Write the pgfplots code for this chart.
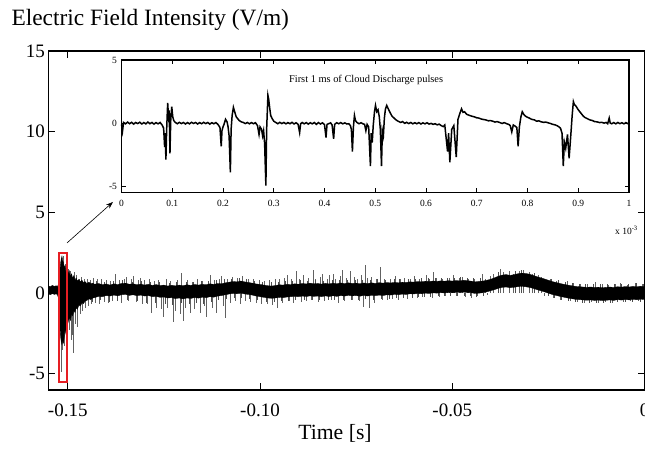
\documentclass[border=0pt]{standalone}
\usepackage{fontspec}
\setmainfont{Liberation Serif}
\usepackage{pgfplots}
\pgfplotsset{compat=1.18}
\usepackage{pgfplotstable}
\usepgfplotslibrary{fillbetween}
\usetikzlibrary{arrows.meta}
\definecolor{boxred}{RGB}{230,30,35}

\pgfplotstableread{
x u l
-0.1550 0.45 -0.05
-0.1545 0.40 -0.10
-0.1540 0.48 -0.02
-0.1535 0.42 -0.08
-0.1530 0.46 -0.04
-0.1527 0.40 -0.10
-0.1524 0.55 -0.30
-0.1521 1.00 -1.50
-0.1519 1.80 -2.60
-0.1517 2.10 -3.00
-0.1515 2.30 -3.20
-0.1513 2.00 -2.90
-0.1511 1.90 -3.10
-0.1509 1.60 -2.70
-0.1507 1.70 -2.20
-0.1505 1.30 -2.50
-0.1503 1.50 -1.90
-0.1501 1.10 -2.00
-0.1499 1.20 -1.80
-0.1496 1.40 -1.50
-0.1493 1.00 -1.70
-0.1490 1.20 -1.30
-0.1487 0.90 -1.40
-0.1484 1.10 -1.10
-0.1481 0.80 -1.20
-0.1478 0.95 -0.90
-0.1475 0.75 -1.00
-0.1471 0.85 -0.75
-0.1467 0.70 -0.80
-0.1463 0.80 -0.60
-0.1459 0.65 -0.65
-0.1455 0.72 -0.50
-0.1450 0.60 -0.45
-0.1445 0.68 -0.35
-0.1440 0.58 -0.40
-0.1435 0.62 -0.30
-0.1430 0.55 -0.28
-0.1420 0.60 -0.20
-0.1410 0.52 -0.22
-0.1400 0.57 -0.15
-0.1390 0.50 -0.18
-0.1380 0.58 -0.12
-0.1370 0.53 -0.17
-0.1360 0.60 -0.10
-0.1350 0.62 -0.08
-0.1340 0.55 -0.14
-0.1330 0.58 -0.10
-0.1320 0.52 -0.16
-0.1310 0.56 -0.12
-0.1300 0.50 -0.18
-0.1290 0.55 -0.15
-0.1280 0.48 -0.22
-0.1270 0.53 -0.20
-0.1260 0.47 -0.26
-0.1250 0.50 -0.24
-0.1240 0.44 -0.30
-0.1230 0.49 -0.28
-0.1220 0.45 -0.34
-0.1210 0.50 -0.30
-0.1200 0.46 -0.36
-0.1190 0.52 -0.30
-0.1180 0.48 -0.33
-0.1170 0.54 -0.27
-0.1160 0.50 -0.31
-0.1150 0.55 -0.25
-0.1140 0.52 -0.28
-0.1130 0.58 -0.22
-0.1120 0.54 -0.25
-0.1110 0.60 -0.18
-0.1100 0.58 -0.15
-0.1090 0.64 -0.10
-0.1080 0.68 -0.05
-0.1070 0.72 -0.02
-0.1060 0.70 -0.04
-0.1050 0.75 0.00
-0.1040 0.70 -0.05
-0.1030 0.66 -0.08
-0.1020 0.62 -0.12
-0.1010 0.57 -0.18
-0.1000 0.54 -0.22
-0.0990 0.50 -0.26
-0.0980 0.46 -0.30
-0.0970 0.44 -0.32
-0.0960 0.47 -0.30
-0.0950 0.52 -0.26
-0.0940 0.50 -0.28
-0.0930 0.55 -0.24
-0.0920 0.53 -0.22
-0.0910 0.58 -0.20
-0.0900 0.55 -0.22
-0.0890 0.60 -0.18
-0.0880 0.57 -0.21
-0.0870 0.62 -0.17
-0.0860 0.58 -0.20
-0.0850 0.60 -0.18
-0.0840 0.56 -0.22
-0.0830 0.61 -0.17
-0.0820 0.57 -0.21
-0.0810 0.62 -0.16
-0.0800 0.58 -0.20
-0.0790 0.63 -0.15
-0.0780 0.59 -0.18
-0.0770 0.64 -0.14
-0.0760 0.60 -0.17
-0.0750 0.62 -0.15
-0.0740 0.58 -0.19
-0.0730 0.63 -0.14
-0.0720 0.59 -0.18
-0.0710 0.64 -0.13
-0.0700 0.60 -0.16
-0.0690 0.65 -0.12
-0.0680 0.62 -0.15
-0.0670 0.66 -0.10
-0.0660 0.63 -0.12
-0.0650 0.67 -0.08
-0.0640 0.64 -0.10
-0.0630 0.68 -0.06
-0.0620 0.66 -0.08
-0.0610 0.70 -0.04
-0.0600 0.68 -0.05
-0.0590 0.72 -0.02
-0.0580 0.70 -0.04
-0.0570 0.74 0.00
-0.0560 0.72 -0.02
-0.0550 0.75 0.02
-0.0540 0.73 0.00
-0.0530 0.76 0.03
-0.0520 0.74 0.01
-0.0510 0.77 0.04
-0.0500 0.75 0.02
-0.0490 0.78 0.05
-0.0480 0.76 0.04
-0.0470 0.80 0.06
-0.0460 0.77 0.04
-0.0450 0.74 0.02
-0.0440 0.70 -0.02
-0.0430 0.73 0.00
-0.0420 0.75 0.03
-0.0410 0.80 0.08
-0.0400 0.86 0.15
-0.0390 0.95 0.22
-0.0380 1.05 0.30
-0.0370 1.12 0.36
-0.0360 1.15 0.38
-0.0350 1.10 0.34
-0.0340 1.14 0.36
-0.0330 1.20 0.40
-0.0320 1.24 0.42
-0.0310 1.22 0.40
-0.0300 1.18 0.36
-0.0290 1.10 0.30
-0.0280 1.02 0.22
-0.0270 0.95 0.15
-0.0260 0.88 0.08
-0.0250 0.80 0.00
-0.0240 0.72 -0.08
-0.0230 0.66 -0.14
-0.0220 0.60 -0.20
-0.0210 0.55 -0.25
-0.0200 0.50 -0.30
-0.0190 0.46 -0.34
-0.0180 0.42 -0.38
-0.0170 0.40 -0.40
-0.0160 0.38 -0.42
-0.0150 0.36 -0.44
-0.0140 0.38 -0.42
-0.0130 0.35 -0.45
-0.0120 0.37 -0.43
-0.0110 0.34 -0.46
-0.0100 0.36 -0.44
-0.0090 0.38 -0.42
-0.0080 0.35 -0.45
-0.0070 0.40 -0.40
-0.0060 0.37 -0.43
-0.0050 0.41 -0.39
-0.0040 0.38 -0.42
-0.0030 0.42 -0.38
-0.0020 0.39 -0.41
-0.0010 0.43 -0.37
0.0000 0.40 -0.40
}\band

\pgfplotstableread{
x y
-0.1518 -4.9
-0.1516 2.2
-0.1514 -3.5
-0.1512 2.3
-0.1510 -3.3
-0.1506 1.8
-0.1502 -2.4
-0.1499 1.5
-0.1497 -2.3
-0.1494 1.4
-0.1492 -2.9
-0.1489 -2.6
-0.1487 1.0
-0.1485 -3.7
-0.1482 1.3
-0.1480 -1.9
-0.1477 1.1
-0.1474 -2.1
-0.1471 0.9
-0.1468 -1.3
-0.1465 1.0
-0.1462 -1.1
-0.1458 0.85
-0.1455 -0.95
-0.1450 0.9
-0.1447 -0.8
-0.1442 0.8
-0.1438 -0.7
-0.1433 0.95
-0.1428 -0.6
-0.1422 0.85
-0.1418 -0.7
-0.1412 0.9
-0.1406 -0.55
-0.1400 0.8
-0.1395 -0.6
-0.1390 0.75
-0.1385 -0.5
-0.1377 1.2
-0.1372 -0.45
-0.1366 0.8
-0.1360 -0.6
-0.1353 0.9
-0.1347 1.0
-0.1342 -0.5
-0.1335 0.85
-0.1329 1.05
-0.1323 -0.55
-0.1317 0.8
-0.1312 0.95
-0.1306 -0.65
-0.1300 0.8
-0.1294 -0.7
-0.1288 0.85
-0.1282 -1.2
-0.1276 0.75
-0.1270 -0.9
-0.1264 0.8
-0.1258 -1.0
-0.1251 -1.45
-0.1245 0.85
-0.1240 -0.9
-0.1233 0.75
-0.1225 -1.8
-0.1220 -1.1
-0.1214 0.8
-0.1208 -1.3
-0.1204 1.25
-0.1200 -1.75
-0.1195 -0.9
-0.1189 0.8
-0.1182 -1.2
-0.1176 0.7
-0.1170 -1.0
-0.1163 0.85
-0.1156 -1.25
-0.1150 0.75
-0.1144 -0.8
-0.1139 -1.45
-0.1130 1.15
-0.1124 -0.9
-0.1118 0.8
-0.1113 -1.2
-0.1106 0.9
-0.1100 1.05
-0.1096 -0.8
-0.1091 -1.55
-0.1085 0.9
-0.1078 -0.6
-0.1072 1.0
-0.1065 -0.5
-0.1058 0.95
-0.1052 -0.65
-0.1045 1.05
-0.1038 -0.5
-0.1031 0.9
-0.1024 -0.55
-0.1017 0.85
-0.1010 -0.6
-0.1003 0.8
-0.0996 -0.65
-0.0989 0.75
-0.0982 -0.7
-0.0975 0.8
-0.0968 -0.75
-0.0961 0.85
-0.0956 -0.9
-0.0950 0.9
-0.0943 -0.6
-0.0936 0.95
-0.0930 1.1
-0.0924 -0.5
-0.0918 0.9
-0.0913 -0.6
-0.0905 1.4
-0.0898 0.9
-0.0893 -0.55
-0.0887 1.15
-0.0880 -0.5
-0.0874 0.95
-0.0867 -0.45
-0.0861 1.45
-0.0855 0.85
-0.0849 -0.55
-0.0843 1.0
-0.0838 1.2
-0.0832 -0.5
-0.0826 0.9
-0.0820 1.1
-0.0815 -0.45
-0.0809 1.2
-0.0803 0.9
-0.0797 -0.6
-0.0791 1.05
-0.0787 1.45
-0.0781 -0.5
-0.0775 0.95
-0.0766 1.35
-0.0760 -0.45
-0.0754 1.0
-0.0748 0.85
-0.0742 -0.5
-0.0736 1.1
-0.0731 -0.85
-0.0727 1.75
-0.0722 0.95
-0.0715 -0.95
-0.0710 1.0
-0.0703 -0.6
-0.0698 0.9
-0.0688 1.65
-0.0682 -0.45
-0.0676 0.85
-0.0668 -0.4
-0.0661 0.9
-0.0655 -0.35
-0.0648 1.05
-0.0640 -0.4
-0.0634 0.85
-0.0625 0.95
-0.0618 -0.35
-0.0610 0.9
-0.0600 1.05
-0.0592 -0.3
-0.0585 0.9
-0.0577 -0.25
-0.0567 1.15
-0.0560 0.9
-0.0552 -0.3
-0.0549 1.3
-0.0541 0.95
-0.0533 -0.25
-0.0525 0.9
-0.0517 -0.2
-0.0509 0.95
-0.0497 1.1
-0.0490 -0.2
-0.0482 0.95
-0.0474 1.0
-0.0466 -0.25
-0.0458 0.9
-0.0450 -0.3
-0.0442 0.85
-0.0435 -0.2
-0.0423 1.2
-0.0415 0.9
-0.0408 -0.1
-0.0400 1.05
-0.0392 1.2
-0.0376 1.5
-0.0368 1.3
-0.0352 1.35
-0.0341 1.2
-0.0326 1.35
-0.0315 1.45
-0.0300 1.3
-0.0292 1.2
-0.0276 1.1
-0.0268 1.0
-0.0260 -0.15
-0.0246 0.9
-0.0238 -0.3
-0.0229 0.75
-0.0220 -0.4
-0.0202 0.75
-0.0193 -0.5
-0.0184 0.6
-0.0175 -0.55
-0.0166 0.55
-0.0157 -0.6
-0.0148 0.55
-0.0139 -0.55
-0.0129 0.7
-0.0120 -0.6
-0.0111 0.55
-0.0102 -0.55
-0.0093 0.5
-0.0084 -0.6
-0.0075 0.55
-0.0064 0.6
-0.0055 -0.55
-0.0046 0.5
-0.0037 -0.5
-0.0025 0.6
-0.0016 -0.5
-0.0007 0.55
}\spikes

\pgfplotstableread{
x y
-0.1441 0.72
-0.1436 -0.52
-0.1426 0.78
-0.1415 -0.45
-0.1404 0.70
-0.1393 -0.55
-0.1382 0.74
-0.1371 -0.48
-0.1357 0.80
-0.1344 -0.42
-0.1333 0.72
-0.1319 -0.50
-0.1309 0.76
-0.1297 -0.58
-0.1285 0.68
-0.1273 -0.62
-0.1261 0.70
-0.1247 -0.66
-0.1236 0.64
-0.1228 -0.72
-0.1217 0.66
-0.1205 -0.64
-0.1192 0.70
-0.1185 -0.70
-0.1173 0.72
-0.1166 -0.60
-0.1153 0.74
-0.1147 -0.66
-0.1134 0.78
-0.1127 -0.55
-0.1115 0.80
-0.1108 -0.45
-0.1094 0.86
-0.1087 -0.35
-0.1075 0.90
-0.1068 -0.28
-0.1055 0.92
-0.1048 -0.30
-0.1035 0.88
-0.1028 -0.38
-0.1014 0.78
-0.1006 -0.45
-0.0993 0.70
-0.0985 -0.52
-0.0972 0.66
-0.0964 -0.55
-0.0953 0.72
-0.0946 -0.50
-0.0933 0.76
-0.0927 -0.46
-0.0915 0.78
-0.0908 -0.44
-0.0895 0.80
-0.0884 -0.42
-0.0877 0.78
-0.0864 -0.44
-0.0857 0.80
-0.0846 -0.42
-0.0835 0.78
-0.0823 -0.44
-0.0812 0.82
-0.0806 -0.40
-0.0794 0.80
-0.0784 -0.42
-0.0772 0.84
-0.0763 -0.40
-0.0751 0.82
-0.0745 -0.42
-0.0733 0.84
-0.0725 -0.38
-0.0713 0.82
-0.0706 -0.40
-0.0694 0.86
-0.0685 -0.36
-0.0673 0.84
-0.0664 -0.34
-0.0652 0.86
-0.0645 -0.32
-0.0637 0.88
-0.0628 -0.30
-0.0614 0.88
-0.0605 -0.28
-0.0596 0.90
-0.0588 -0.25
-0.0580 0.92
-0.0572 -0.22
-0.0563 0.94
-0.0556 -0.22
-0.0545 0.92
-0.0537 -0.20
-0.0529 0.95
-0.0521 -0.20
-0.0513 0.94
-0.0505 -0.18
-0.0494 0.96
-0.0486 -0.18
-0.0478 0.98
-0.0470 -0.16
-0.0462 0.95
-0.0454 -0.20
-0.0446 0.92
-0.0438 -0.22
-0.0428 0.94
-0.0419 -0.15
-0.0380 1.28
-0.0337 1.38
-0.0321 1.42
-0.0287 1.22
-0.0250 -0.20
-0.0242 0.88
-0.0234 -0.32
-0.0225 0.80
-0.0216 -0.40
-0.0207 0.72
-0.0198 -0.48
-0.0189 0.65
-0.0180 -0.55
-0.0171 0.58
-0.0162 -0.58
-0.0153 0.56
-0.0144 -0.60
-0.0134 0.54
-0.0125 -0.62
-0.0116 0.56
-0.0107 -0.60
-0.0098 0.54
-0.0089 -0.58
-0.0079 0.56
-0.0070 -0.56
-0.0060 0.58
-0.0051 -0.57
-0.0041 0.58
-0.0032 -0.56
-0.0021 0.60
-0.0011 -0.55
-0.0003 0.58
}\shortspikes

\pgfplotstableread{
x y
0.000 -0.10
0.002 -0.65
0.004 0.05
0.008 -0.06
0.012 0.08
0.016 -0.05
0.020 0.06
0.024 -0.08
0.028 0.05
0.032 -0.04
0.036 0.07
0.040 -0.07
0.044 0.04
0.048 -0.06
0.052 0.08
0.056 -0.05
0.060 0.05
0.064 -0.08
0.068 0.04
0.072 -0.06
0.076 0.05
0.080 -0.15
0.083 -0.40
0.085 -1.90
0.086 -0.80
0.0875 -2.90
0.089 -0.50
0.091 1.60
0.0925 0.60
0.094 1.00
0.0955 -2.40
0.097 0.20
0.099 1.30
0.101 0.50
0.103 0.20
0.106 0.05
0.110 -0.05
0.114 0.06
0.118 -0.04
0.122 0.05
0.126 -0.07
0.130 0.04
0.134 -0.06
0.138 0.06
0.142 -0.03
0.146 0.05
0.150 -0.07
0.154 0.04
0.158 -0.05
0.162 0.06
0.166 -0.04
0.170 0.05
0.174 -0.08
0.178 0.03
0.182 -0.05
0.186 0.04
0.190 -0.10
0.194 -0.35
0.1965 -1.85
0.198 -0.60
0.200 -0.30
0.202 -0.10
0.205 0.30
0.208 0.10
0.210 -0.30
0.212 -1.00
0.2145 -3.90
0.216 -0.50
0.218 0.60
0.2205 1.25
0.223 0.90
0.226 0.50
0.229 0.35
0.232 0.20
0.236 0.10
0.240 0.05
0.244 -0.04
0.248 0.05
0.252 -0.06
0.256 0.04
0.260 -0.05
0.264 0.03
0.268 -0.20
0.271 -0.90
0.273 -0.30
0.276 -0.50
0.278 -1.00
0.280 -0.60
0.282 -1.60
0.2845 -4.95
0.286 -0.50
0.2885 2.20
0.290 1.90
0.292 1.20
0.294 0.60
0.297 0.35
0.300 0.15
0.304 0.05
0.308 -0.05
0.312 0.06
0.316 -0.04
0.320 0.05
0.324 -0.06
0.328 0.04
0.332 -0.05
0.336 0.06
0.340 -0.07
0.344 0.03
0.348 -0.10
0.351 -0.75
0.353 -0.05
0.356 0.05
0.360 -0.06
0.364 0.04
0.368 -0.08
0.372 0.03
0.376 -0.06
0.380 0.05
0.384 -0.10
0.388 0.04
0.392 -0.07
0.396 0.02
0.400 -0.12
0.403 -1.15
0.405 -0.10
0.408 -0.05
0.412 0.02
0.415 -0.15
0.418 -1.25
0.420 -0.10
0.424 0.03
0.428 -0.05
0.432 0.04
0.436 -0.06
0.440 0.02
0.444 -0.07
0.448 -0.05
0.451 -0.20
0.453 -0.50
0.455 -2.25
0.457 -0.30
0.459 0.60
0.461 0.20
0.464 0.05
0.468 -0.05
0.472 0.03
0.476 -0.06
0.479 -0.10
0.4815 -0.60
0.484 -0.10
0.487 -0.30
0.4905 -3.40
0.492 -0.80
0.494 -1.55
0.496 -0.20
0.4985 0.90
0.5005 1.40
0.503 0.90
0.5055 1.05
0.508 0.50
0.510 -0.50
0.5123 -3.40
0.514 -0.60
0.516 -1.00
0.518 0.40
0.520 1.10
0.5226 1.40
0.526 1.10
0.529 0.85
0.533 0.55
0.537 0.40
0.541 0.25
0.545 0.15
0.550 0.05
0.554 0.12
0.558 -0.02
0.562 0.06
0.566 -0.04
0.570 0.05
0.574 -0.06
0.578 0.03
0.582 -0.05
0.586 0.04
0.590 -0.07
0.594 0.02
0.598 -0.06
0.602 0.03
0.606 -0.08
0.610 -0.02
0.614 -0.10
0.618 -0.05
0.622 -0.14
0.626 -0.08
0.630 -0.20
0.634 -0.28
0.637 -0.15
0.6425 -2.26
0.6445 -0.80
0.647 -3.10
0.6507 -0.50
0.6548 -0.20
0.6596 -2.70
0.663 0.30
0.667 0.80
0.670 1.13
0.673 0.85
0.676 0.90
0.680 0.70
0.685 0.62
0.690 0.55
0.695 0.50
0.700 0.42
0.704 0.40
0.709 0.32
0.714 0.28
0.718 0.25
0.723 0.18
0.727 0.20
0.7315 0.15
0.736 0.08
0.740 0.12
0.745 0.05
0.750 -0.03
0.754 0.04
0.759 -0.05
0.763 -0.10
0.766 -0.20
0.769 -0.70
0.772 -0.15
0.776 -0.25
0.779 -0.35
0.7815 -1.85
0.784 -0.30
0.787 0.50
0.7897 0.90
0.7925 0.70
0.7945 0.60
0.798 0.50
0.8034 0.40
0.808 0.30
0.8137 0.25
0.818 0.15
0.822 0.18
0.827 0.10
0.832 0.06
0.836 0.08
0.841 0.02
0.845 -0.03
0.850 -0.10
0.855 -0.15
0.859 -0.22
0.862 -0.30
0.865 -0.40
0.868 -0.80
0.8705 -3.40
0.8726 -1.50
0.8753 -2.00
0.8788 -0.90
0.882 -2.80
0.8856 -0.80
0.8880 0.60
0.8904 1.70
0.8925 1.45
0.8945 1.40
0.8970 1.25
0.8993 1.10
0.902 0.95
0.906 0.75
0.910 0.55
0.913 0.45
0.918 0.35
0.923 0.25
0.928 0.20
0.932 0.12
0.937 0.10
0.942 0.04
0.946 0.06
0.951 0.00
0.955 0.05
0.958 -0.05
0.961 0.40
0.963 0.00
0.966 -0.05
0.970 0.04
0.974 -0.06
0.978 0.05
0.982 -0.04
0.986 0.03
0.990 -0.06
0.994 0.04
0.998 -0.05
1.000 0.02
}\inset

\begin{document}
\begin{tikzpicture}
\begin{axis}[
  set layers,
  at={(0pt,0pt)}, anchor=south west,
  scale only axis, width=596pt, height=339pt,
  xmin=-0.155, xmax=0, ymin=-6, ymax=15,
  xtick={-0.15,-0.1,-0.05,0}, xticklabels={-0.15,-0.10,-0.05,0},
  ytick={-5,0,5,10,15}, yticklabels={-5,0,5,10,15},
  tick align=inside, xtick pos=both, ytick pos=both,
  major tick length=7pt,
  tick style={black, line width=0.9pt},
  axis line style={line width=1.6pt},
  ticklabel style={font=\fontsize{19}{19}\selectfont},
  xticklabel style={yshift=-10pt},
]
\addplot[ycomb, black!62, line width=0.55pt, mark=none, on layer=axis background] table[x=x,y=y]{\spikes};
\addplot[ycomb, black!70, line width=0.5pt, mark=none, on layer=axis background] table[x=x,y=y]{\shortspikes};
\addplot[draw=none, name path=U] table[x=x,y=u]{\band};
\addplot[draw=none, name path=L] table[x=x,y=l]{\band};
\addplot[fill=black, draw=black, line width=0.3pt] fill between[of=U and L];
\draw[boxred, line width=1.8pt] (axis cs:-0.15234,-5.5) rectangle (axis cs:-0.15026,2.5);
\draw[-{Stealth[length=7pt,width=5pt]}, line width=0.6pt] (axis cs:-0.15019,3.11) -- (axis cs:-0.13822,5.65);
\end{axis}
\begin{axis}[
  at={(73pt,197.5pt)}, anchor=south west,
  scale only axis, width=507.5pt, height=132.5pt,
  xmin=0, xmax=1, ymin=-5.5, ymax=5,
  xtick={0,0.1,0.2,0.3,0.4,0.5,0.6,0.7,0.8,0.9,1},
  xticklabels={0,0.1,0.2,0.3,0.4,0.5,0.6,0.7,0.8,0.9,1},
  ytick={-5,0,5}, yticklabels={-5,0,5},
  tick align=inside, xtick pos=both, ytick pos=both,
  major tick length=4.5pt,
  tick style={black, line width=0.6pt},
  axis line style={line width=1.1pt},
  ticklabel style={font=\fontsize{9.5}{9.5}\selectfont},
  xticklabel style={yshift=-4pt},
  yticklabel style={xshift=-1pt},
  axis background/.style={fill=white},
  clip=false,
]
\addplot[black, line width=1.5pt, mark=none] table[x=x,y=y]{\inset};
\node[font=\fontsize{10.4}{10.4}\selectfont] at (axis cs:0.482,3.45) {First 1 ms of Cloud Discharge pulses};
\node[font=\fontsize{9.5}{9.5}\selectfont] at (rel axis cs:0.995,0) [yshift=-38pt] {x 10\textsuperscript{-3}};
\end{axis}
\node[font=\fontsize{23.4}{23.4}\selectfont, anchor=west] at (-40.5pt,370pt) {Electric Field Intensity (V/m)};
\node[font=\fontsize{21.7}{21.7}\selectfont] at (286.5pt,-43pt) {Time [s]};
\pgfresetboundingbox
\useasboundingbox (-48.5pt,-66pt) rectangle (596.5pt,390pt);
\end{tikzpicture}
\end{document}
